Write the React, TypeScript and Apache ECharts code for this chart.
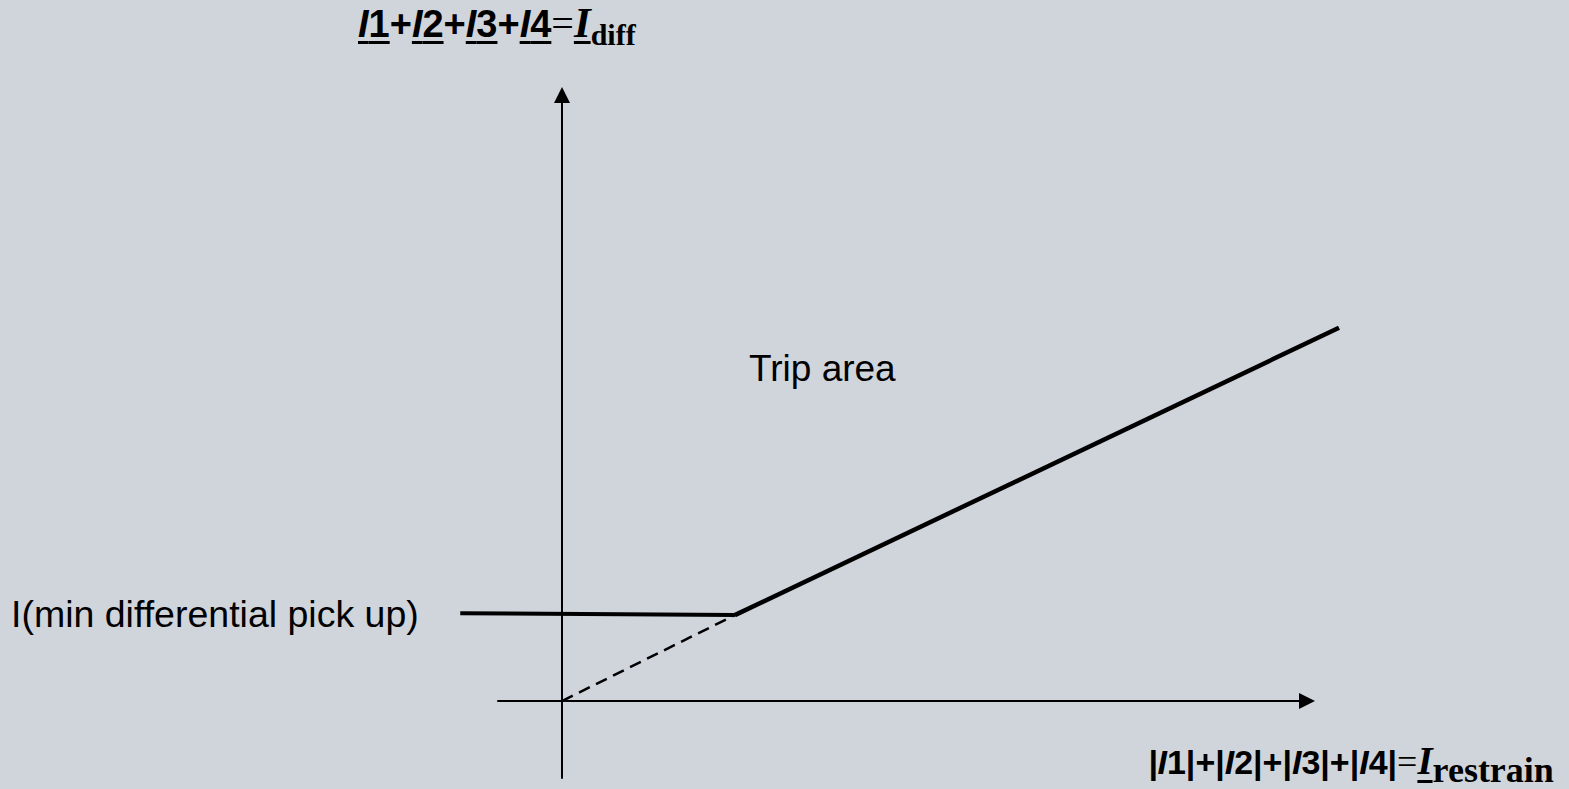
import React, { useEffect, useRef } from "react";
import * as echarts from "echarts";

// Axis ranges (abstract current units)
const xRange = [-1, 11.64];
const yRange = [-1.2, 9.45];
// Wider hidden range used to draw the characteristic (it runs past the axes)
const xDrawRange = [-1.7, 12.3];

// Characteristic segments [I_restrain, I_diff]
const pickupX = [-1.59, 2.7];
const pickupY = [1.37, 1.34];
const dashX = [0, 2.7];
const dashY = [0, 1.34];
const slopeX = [2.7, 12.14];
const slopeY = [1.34, 5.82];

const tripLabel = "Trip area";
const pickupLabel = "I(min differential pick up)";

const SANS = 'Arial, "Liberation Sans", sans-serif';
const SERIF = '"Times New Roman", "Liberation Serif", serif';

type Seg = {
  t: string;
  fam: string;
  size: number;
  bold?: boolean;
  italic?: boolean;
  u?: boolean;
  dy?: number;
};

const TS = 38;
const topSegs: Seg[] = [
  { t: "I", fam: SANS, size: TS, bold: true, italic: true, u: true },
  { t: "1", fam: SANS, size: TS, bold: true, u: true },
  { t: "+", fam: SANS, size: TS, bold: true },
  { t: "I", fam: SANS, size: TS, bold: true, italic: true, u: true },
  { t: "2", fam: SANS, size: TS, bold: true, u: true },
  { t: "+", fam: SANS, size: TS, bold: true },
  { t: "I", fam: SANS, size: TS, bold: true, italic: true, u: true },
  { t: "3", fam: SANS, size: TS, bold: true, u: true },
  { t: "+", fam: SANS, size: TS, bold: true },
  { t: "I", fam: SANS, size: TS, bold: true, italic: true, u: true },
  { t: "4", fam: SANS, size: TS, bold: true, u: true },
  { t: "=", fam: SERIF, size: 40 },
  { t: "I", fam: SERIF, size: 43, bold: true, italic: true, u: true },
  { t: "diff", fam: SERIF, size: 30, bold: true, dy: 8 },
];

const BS = 34;
const bottomSegs: Seg[] = [
  { t: "|I", fam: SANS, size: BS, bold: true, italic: true },
  { t: "1|+|", fam: SANS, size: BS, bold: true },
  { t: "I", fam: SANS, size: BS, bold: true, italic: true },
  { t: "2|+|", fam: SANS, size: BS, bold: true },
  { t: "I", fam: SANS, size: BS, bold: true, italic: true },
  { t: "3|+|", fam: SANS, size: BS, bold: true },
  { t: "I", fam: SANS, size: BS, bold: true, italic: true },
  { t: "4|", fam: SANS, size: BS, bold: true },
  { t: "=", fam: SERIF, size: 36 },
  { t: "I", fam: SERIF, size: 39, bold: true, italic: true, u: true },
  { t: "restrain", fam: SERIF, size: 36, bold: true, dy: 8 },
];

const ctx = document.createElement("canvas").getContext("2d")!;
function fontStr(s: Seg) {
  return `${s.italic ? "italic" : "normal"} ${s.bold ? "bold" : "normal"} ${s.size}px ${s.fam}`;
}

function layout(segs: Seg[], x0: number, baseline: number, uOff: number, uH: number) {
  const els: any[] = [];
  let x = x0;
  for (const s of segs) {
    ctx.font = fontStr(s);
    const w = ctx.measureText(s.t).width;
    const central = s.fam === SANS ? 0.3465 : 0.3375;
    const b = baseline + (s.dy || 0);
    els.push({
      type: "text",
      x,
      y: b - central * s.size,
      style: {
        text: s.t,
        fill: "#000",
        fontFamily: s.fam,
        fontSize: s.size,
        fontWeight: s.bold ? "bold" : "normal",
        fontStyle: s.italic ? "italic" : "normal",
        align: "left",
        verticalAlign: "middle",
        textAlign: "left",
        textVerticalAlign: "middle",
      },
    });
    if (s.u) {
      els.push({
        type: "rect",
        shape: { x, y: baseline + uOff, width: w, height: uH },
        style: { fill: "#000" },
      });
    }
    x += w;
  }
  return els;
}

function plainText(text: string, x: number, baseline: number, size: number) {
  return {
    type: "text",
    x,
    y: baseline - 0.3465 * size,
    style: {
      text,
      fill: "#000",
      fontFamily: SANS,
      fontSize: size,
      align: "left",
      verticalAlign: "middle",
      textAlign: "left",
      textVerticalAlign: "middle",
    },
  };
}

const zip = (xs: number[], ys: number[]) => xs.map((v, i) => [v, ys[i]]);

const GL = 498;
const GR = 262;
const GT = 95;
const GB = 11;
const W = 1569;

export default function App() {
  const ref = useRef<HTMLDivElement>(null);
  useEffect(() => {
    if (!ref.current) return;
    const chart = echarts.init(ref.current, undefined, { renderer: "svg" });
    const kx = (W - GL - GR) / (xRange[1] - xRange[0]);
    const g2Left = GL + (xDrawRange[0] - xRange[0]) * kx;
    const g2Right = W - (GL + (xDrawRange[1] - xRange[0]) * kx);
    const axisLine = {
      show: true,
      onZero: true,
      symbol: ["none", "triangle"],
      symbolSize: [16, 16],
      lineStyle: { color: "#000", width: 2 },
    };
    const hidden = {
      axisLine: { show: false },
      axisTick: { show: false },
      axisLabel: { show: false },
      splitLine: { show: false },
    };
    chart.setOption({
      animation: false,
      backgroundColor: "#D0D4DB",
      grid: [
        { left: GL, right: GR, top: GT, bottom: GB, containLabel: false },
        { left: g2Left, right: g2Right, top: GT, bottom: GB, containLabel: false },
      ],
      xAxis: [
        {
          type: "value",
          gridIndex: 0,
          min: xRange[0],
          max: xRange[1],
          axisLine,
          axisTick: { show: false },
          axisLabel: { show: false },
          splitLine: { show: false },
        },
        { type: "value", gridIndex: 1, min: xDrawRange[0], max: xDrawRange[1], ...hidden },
      ],
      yAxis: [
        {
          type: "value",
          gridIndex: 0,
          min: yRange[0],
          max: yRange[1],
          axisLine,
          axisTick: { show: false },
          axisLabel: { show: false },
          splitLine: { show: false },
        },
        { type: "value", gridIndex: 1, min: yRange[0], max: yRange[1], ...hidden },
      ],
      series: [
        {
          type: "line",
          xAxisIndex: 1,
          yAxisIndex: 1,
          data: zip(pickupX, pickupY),
          symbol: "none",
          lineStyle: { color: "#000", width: 4 },
        },
        {
          type: "line",
          xAxisIndex: 1,
          yAxisIndex: 1,
          data: zip(dashX, dashY),
          symbol: "none",
          lineStyle: { color: "#000", width: 2.5, type: [12, 7] },
        },
        {
          type: "line",
          xAxisIndex: 1,
          yAxisIndex: 1,
          data: zip(slopeX, slopeY),
          symbol: "none",
          lineStyle: { color: "#000", width: 4.5 },
        },
      ],
      graphic: [
        ...layout(topSegs, 358, 37, 4, 3),
        ...layout(bottomSegs, 1148, 774, 6, 3),
        plainText(tripLabel, 749, 381, 37),
        plainText(pickupLabel, 11, 627, 37.5),
      ],
    });
    return () => chart.dispose();
  }, []);
  return (
    <div
      ref={ref}
      style={{ position: "absolute", left: 0, top: 0, width: 1569, height: 789, background: "#D0D4DB" }}
    />
  );
}
